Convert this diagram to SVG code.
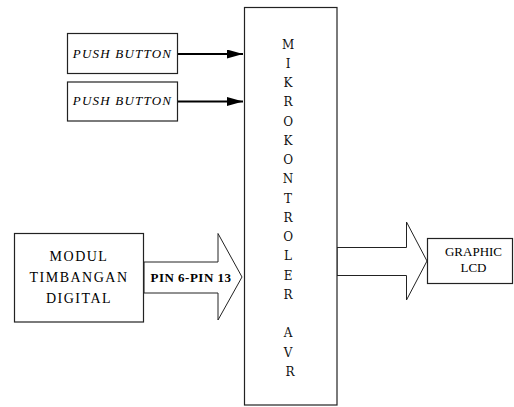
<svg xmlns="http://www.w3.org/2000/svg" width="514" height="407" viewBox="0 0 514 407">
<style>
.box{fill:#fff;stroke:#222;stroke-width:1.2}
.big{fill:#fff;stroke:#222;stroke-width:1}
.ln{stroke:#000;stroke-width:2;fill:none}
.t{font-family:'Liberation Serif','Times New Roman','DejaVu Serif',serif;fill:#000}
.pb{font-size:13px;font-style:italic;letter-spacing:1.2px}
.md{font-size:14px;letter-spacing:1.5px}
.pin{font-size:13px;font-weight:bold;letter-spacing:0.5px}
.lcd{font-size:13px}
.m{font-family:'DejaVu Serif','Liberation Serif',serif;font-size:12px;fill:#111}
</style>
<defs>
<marker id="ah" viewBox="0 0 16 9" refX="16" refY="4.5" markerWidth="16" markerHeight="9" markerUnits="userSpaceOnUse" orient="auto">
<path d="M0,0 L16,4.5 L0,9 Z" fill="#000"/>
</marker>
</defs>
<g id="connectors">
<line class="ln" x1="177" y1="54" x2="243" y2="54" marker-end="url(#ah)"/>
<line class="ln" x1="177" y1="101.5" x2="243" y2="101.5" marker-end="url(#ah)"/>
<polygon class="big" points="144,262 218,262 218,233.5 242,277 218,320 218,293 144,293"/>
<polygon class="big" points="337,247.5 406.5,247.5 406.5,222 427,261 406.5,300 406.5,275.5 337,275.5"/>
<text class="t pin" x="191" y="282" text-anchor="middle">PIN 6-PIN 13</text>
</g>
<g id="push1">
<rect class="box" x="67.5" y="33.5" width="110" height="40"/>
<text class="t pb" x="122.5" y="58" text-anchor="middle">PUSH BUTTON</text>
</g>
<g id="push2">
<rect class="box" x="67.5" y="82" width="110" height="39"/>
<text class="t pb" x="122.5" y="105" text-anchor="middle">PUSH BUTTON</text>
</g>
<g id="modul">
<rect class="box" x="14.5" y="233.5" width="129" height="88.5"/>
<text class="t md" x="79" y="261" text-anchor="middle">MODUL</text>
<text class="t md" x="79" y="282" text-anchor="middle">TIMBANGAN</text>
<text class="t md" x="79" y="303" text-anchor="middle">DIGITAL</text>
</g>
<g id="mikrokontroler">
<rect class="box" x="244.5" y="7.5" width="92.5" height="397.5"/>
<text class="m" text-anchor="middle">
<tspan x="290" y="48.5">M</tspan>
<tspan x="290" y="67.75">I</tspan>
<tspan x="290" y="87">K</tspan>
<tspan x="290" y="106.25">R</tspan>
<tspan x="290" y="125.5">O</tspan>
<tspan x="290" y="144.75">K</tspan>
<tspan x="290" y="164">O</tspan>
<tspan x="290" y="183.25">N</tspan>
<tspan x="290" y="202.5">T</tspan>
<tspan x="290" y="221.75">R</tspan>
<tspan x="290" y="241">O</tspan>
<tspan x="290" y="260.25">L</tspan>
<tspan x="290" y="279.5">E</tspan>
<tspan x="290" y="298.75">R</tspan>
<tspan x="290" y="337.25">A</tspan>
<tspan x="290" y="356.5">V</tspan>
<tspan x="290" y="375.75">R</tspan>
</text>
</g>
<g id="lcd">
<rect class="box" x="427.5" y="238.5" width="85" height="45"/>
<text class="t lcd" x="473.5" y="256" text-anchor="middle">GRAPHIC</text>
<text class="t lcd" x="473.5" y="272" text-anchor="middle">LCD</text>
</g>
</svg>
